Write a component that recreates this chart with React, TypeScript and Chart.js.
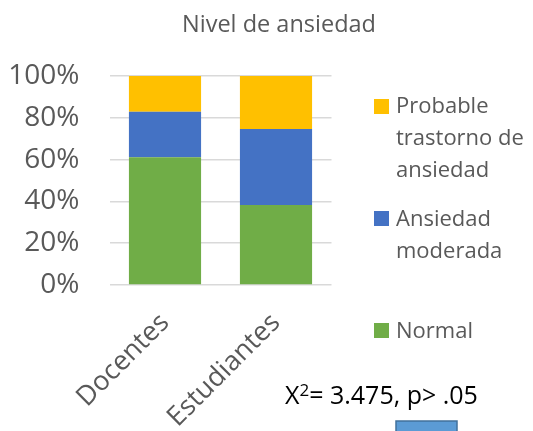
import React, { useEffect, useRef } from "react";
import { Chart, registerables } from "chart.js";

Chart.register(...registerables);

const title = "Nivel de ansiedad";
const categories = ["Docentes", "Estudiantes"];
const normal = [61.1, 38.3];
const moderada = [21.8, 36.3];
const probable = [17.1, 25.4];
const yTicks = [0, 20, 40, 60, 80, 100];
const legendLabels = {
  probable: ["Probable", "trastorno de", "ansiedad"],
  moderada: ["Ansiedad", "moderada"],
  normal: ["Normal"],
};
const statText = { base: "X", sup: "2", rest: "= 3.475, p> .05" };

const GREEN = "#70AD47";
const BLUE = "#4472C4";
const YELLOW = "#FFC000";
const TEXT = "#595959";
const FONT = "'Open Sans', sans-serif";

const overlayPlugin = {
  id: "overlay",
  afterDraw(chart: any) {
    const ctx = chart.ctx;
    ctx.save();
    // title
    ctx.fillStyle = TEXT;
    ctx.font = `23.5px ${FONT}`;
    ctx.textAlign = "center";
    ctx.textBaseline = "alphabetic";
    ctx.fillText(title, 279, 32);

    // legend
    const items = [
      { color: YELLOW, lines: legendLabels.probable, boxY: 99, baseY: 113 },
      { color: BLUE, lines: legendLabels.moderada, boxY: 211, baseY: 226 },
      { color: GREEN, lines: legendLabels.normal, boxY: 323, baseY: 338 },
    ];
    ctx.textAlign = "left";
    ctx.font = `22px ${FONT}`;
    items.forEach((it) => {
      ctx.fillStyle = it.color;
      ctx.fillRect(374, it.boxY, 15, 15);
      ctx.fillStyle = TEXT;
      it.lines.forEach((ln, i) => {
        ctx.fillText(ln, 396, it.baseY + i * 32);
      });
    });

    // statistic text
    ctx.fillStyle = "#000000";
    ctx.font = `25px ${FONT}`;
    let x = 285;
    const by = 404;
    ctx.fillText(statText.base, x, by);
    x += ctx.measureText(statText.base).width;
    ctx.font = `17px ${FONT}`;
    ctx.fillText(statText.sup, x, by - 8);
    x += ctx.measureText(statText.sup).width;
    ctx.font = `25px ${FONT}`;
    ctx.fillText(statText.rest, x, by);

    // small shape at bottom
    ctx.fillStyle = "#5B9BD5";
    ctx.fillRect(396, 421, 61, 14);
    ctx.strokeStyle = "#41719C";
    ctx.lineWidth = 1.5;
    ctx.strokeRect(396, 421, 61, 14);
    ctx.restore();
  },
};

export default function App() {
  const ref = useRef<HTMLCanvasElement>(null);
  useEffect(() => {
    document.body.style.margin = "0";
    const chart = new Chart(ref.current as HTMLCanvasElement, {
      type: "bar",
      data: {
        labels: categories,
        datasets: [
          { label: "Normal", data: normal, backgroundColor: GREEN },
          { label: "Ansiedad moderada", data: moderada, backgroundColor: BLUE },
          { label: "Probable trastorno de ansiedad", data: probable, backgroundColor: YELLOW },
        ],
      },
      options: {
        responsive: true,
        maintainAspectRatio: false,
        animation: false,
        layout: { padding: { left: 0, right: 201.5, top: 76, bottom: 0 } },
        datasets: { bar: { categoryPercentage: 0.65, barPercentage: 1 } },
        plugins: {
          legend: { display: false },
          title: { display: false },
          tooltip: { enabled: false },
        },
        scales: {
          x: {
            stacked: true,
            grid: { display: false, drawTicks: false },
            border: { display: false },
            ticks: {
              color: TEXT,
              font: { family: FONT, size: 27 },
              minRotation: 45,
              maxRotation: 45,
              padding: 22,
            },
            afterFit: (s: any) => {
              s.height = 146;
            },
          },
          y: {
            stacked: true,
            min: 0,
            max: 100,
            afterBuildTicks: (s: any) => {
              s.ticks = yTicks.map((v) => ({ value: v }));
            },
            grid: { color: "#d9d9d9", lineWidth: 1.5, drawTicks: false },
            border: { display: false },
            ticks: {
              color: TEXT,
              font: { family: FONT, size: 28 },
              padding: 30,
              callback: (v: any) => `${v}%`,
            },
            afterFit: (s: any) => {
              s.width = 109.5;
            },
          },
        },
      },
      plugins: [overlayPlugin],
    });
    return () => chart.destroy();
  }, []);
  return (
    <div style={{ position: "absolute", left: 0, top: 0, width: 533, height: 431 }}>
      <canvas ref={ref} />
    </div>
  );
}
